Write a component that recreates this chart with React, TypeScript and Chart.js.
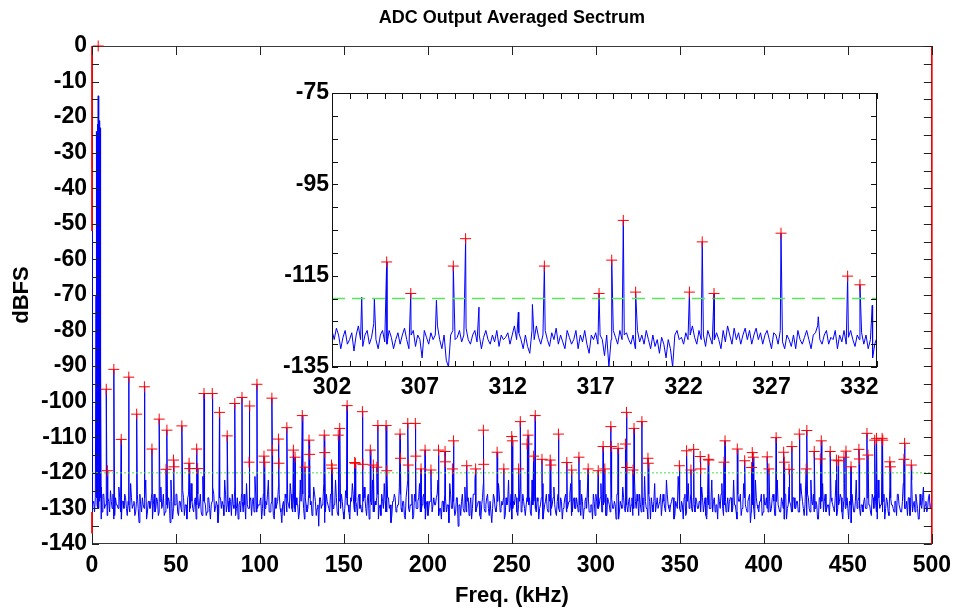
import React, { useEffect, useRef } from "react";
import { Chart, registerables } from "chart.js";

Chart.register(...registerables);

const FONT = "'Liberation Sans', Arial, Helvetica, sans-serif";
Chart.defaults.font.family = FONT;

// ---------- text ----------
const chartTitle = "ADC Output Averaged Sectrum";
const xAxisTitle = "Freq. (kHz)";
const yAxisTitle = "dBFS";

// ---------- axes ----------
const mainXTickLabels = [0, 50, 100, 150, 200, 250, 300, 350, 400, 450, 500];
const mainYTickLabels = [0, -10, -20, -30, -40, -50, -60, -70, -80, -90, -100, -110, -120, -130, -140];
const mainXRange = [0, 500];
const mainYRange = [-140, 0];
const insetXTickLabels = [302, 307, 312, 317, 322, 327, 332];
const insetYTickLabels = [-135, -115, -95, -75];
const insetXRange = [302, 333];
const insetYRange = [-135, -75];
const thresholdDb = -120;

// ---------- main spectrum: noise floor on integer bins (f = 1..500 kHz) ----------
const mainNoiseStartKHz = 1;
const mainNoiseStepKHz = 1;
const mainNoiseDb = [
  -128, -127, -129, -130, -127, -131, -126, -129, -132, -128, -125, -130, -133, -127, -129, -124, -131, -128, -130, -127,
  -132, -129, -123, -130, -128, -131, -126, -134, -129, -127, -130, -122, -131, -128, -129, -133, -126, -130, -128, -131,
  -124, -129, -132, -127, -130, -128, -122, -133, -129, -126, -131, -128, -130, -125, -132, -129, -127, -131, -123, -130,
  -128, -133, -126, -129, -131, -121, -128, -132, -127, -130, -129, -124, -131, -128, -134, -127, -130, -129, -122, -131,
  -128, -127, -132, -129, -124, -130, -133, -128, -126, -131, -129, -123, -130, -128, -132, -127, -121, -131, -129, -128,
  -133, -126, -130, -129, -122, -131, -128, -132, -127, -129, -124, -130, -134, -128, -126, -131, -129, -123, -130, -127,
  -131, -129, -133, -122, -128, -130, -127, -131, -126, -129, -132, -124, -128, -130, -135, -127, -129, -123, -131, -128,
  -130, -126, -132, -129, -122, -131, -127, -130, -128, -133, -125, -129, -131, -127, -123, -130, -128, -132, -126, -129,
  -131, -124, -130, -127, -133, -128, -122, -131, -129, -126, -130, -132, -128, -123, -131, -127, -130, -134, -128, -126,
  -131, -129, -124, -130, -128, -132, -127, -122, -131, -129, -133, -126, -130, -128, -123, -131, -127, -130, -129, -132,
  -128, -125, -131, -129, -127, -122, -130, -133, -128, -126, -131, -129, -123, -130, -128, -132, -127, -135, -129, -128,
  -130, -124, -131, -127, -129, -133, -126, -122, -130, -128, -132, -129, -123, -131, -127, -130, -128, -134, -126, -130,
  -129, -123, -131, -128, -127, -132, -129, -122, -130, -133, -128, -126, -131, -129, -124, -130, -128, -132, -127, -129,
  -131, -122, -128, -130, -127, -133, -129, -123, -131, -128, -130, -126, -132, -129, -124, -131, -128, -130, -127, -133,
  -129, -126, -130, -128, -123, -131, -127, -130, -129, -122, -132, -128, -130, -127, -124, -131, -129, -133, -128, -126,
  -130, -129, -123, -131, -128, -132, -127, -129, -122, -130, -128, -133, -126, -131, -129, -124, -130, -128, -131, -127,
  -129, -132, -122, -130, -128, -126, -131, -129, -121, -130, -133, -128, -127, -131, -123, -129, -130, -128, -132, -126,
  -130, -122, -129, -131, -128, -127, -132, -129, -121, -130, -128, -133, -126, -131, -123, -129, -130, -127, -131, -128,
  -130, -128, -124, -131, -127, -133, -129, -130, -122, -128, -131, -129, -126, -130, -123, -132, -128, -129, -131, -127,
  -131, -122, -129, -133, -128, -126, -130, -123, -129, -131, -127, -134, -128, -130, -122, -129, -131, -128, -132, -126,
  -129, -130, -123, -131, -127, -128, -132, -122, -129, -131, -128, -133, -126, -130, -124, -129, -131, -127, -130, -128,
  -131, -123, -128, -132, -129, -126, -130, -122, -129, -131, -128, -133, -127, -130, -123, -128, -131, -129, -132, -127,
  -129, -131, -122, -130, -128, -127, -133, -123, -129, -130, -128, -134, -126, -131, -122, -128, -130, -129, -131, -127,
  -130, -123, -129, -132, -127, -126, -131, -122, -130, -129, -128, -133, -127, -131, -124, -129, -130, -128, -132, -126,
  -129, -131, -123, -130, -128, -127, -132, -122, -129, -131, -128, -133, -126, -130, -124, -129, -131, -127, -130, -128,
];

// ---------- main spectrum: noise floor on half bins (f = 0.5..499.5 kHz) ----------
const mainHalfNoiseStartKHz = 0.5;
const mainHalfNoiseStepKHz = 1;
const mainHalfNoiseDb = [
  -129, -131, -127, -130, -128, -133, -126, -130, -129, -127, -131, -128, -126, -132, -129, -130, -127, -133, -128, -126,
  -130, -128, -131, -127, -129, -132, -128, -130, -126, -131, -129, -127, -133, -128, -130, -126, -129, -131, -127, -132,
  -128, -130, -126, -131, -129, -127, -134, -128, -130, -129, -126, -132, -128, -131, -127, -129, -133, -126, -130, -128,
  -131, -127, -129, -130, -126, -132, -128, -129, -131, -127, -133, -128, -126, -130, -129, -131, -127, -128, -132, -126,
  -129, -131, -128, -126, -130, -132, -127, -129, -131, -128, -126, -133, -129, -130, -127, -128, -131, -126, -130, -129,
  -127, -130, -132, -128, -126, -131, -129, -127, -133, -130, -128, -126, -131, -129, -132, -127, -128, -130, -126, -131,
  -130, -127, -129, -131, -128, -126, -133, -129, -130, -127, -128, -131, -126, -132, -129, -127, -130, -128, -134, -126,
  -128, -131, -126, -130, -129, -127, -132, -128, -126, -131, -130, -127, -129, -133, -128, -126, -131, -129, -127, -130,
  -131, -128, -127, -132, -126, -130, -129, -131, -128, -127, -133, -129, -126, -130, -128, -131, -127, -129, -132, -128,
  -127, -130, -129, -126, -131, -128, -133, -127, -130, -129, -126, -132, -128, -130, -127, -131, -129, -126, -133, -128,
  -130, -128, -131, -127, -129, -126, -132, -130, -128, -131, -127, -129, -134, -126, -130, -128, -131, -127, -129, -132,
  -126, -131, -129, -128, -132, -127, -130, -126, -131, -129, -128, -133, -127, -130, -129, -126, -132, -128, -130, -127,
  -131, -128, -126, -130, -129, -133, -127, -128, -131, -126, -130, -129, -127, -132, -128, -131, -126, -130, -129, -128,
  -127, -132, -129, -126, -131, -128, -130, -127, -133, -129, -126, -131, -128, -130, -127, -129, -132, -126, -131, -128,
  -130, -127, -131, -129, -126, -132, -128, -130, -127, -131, -129, -126, -133, -128, -130, -127, -131, -129, -126, -132,
  -128, -130, -127, -131, -129, -126, -132, -128, -131, -127, -130, -129, -126, -133, -128, -130, -127, -131, -129, -128,
  -131, -127, -130, -128, -126, -132, -129, -127, -131, -128, -130, -126, -133, -129, -128, -131, -127, -130, -126, -129,
  -128, -131, -126, -130, -129, -127, -133, -128, -130, -126, -131, -129, -127, -132, -128, -130, -126, -131, -129, -127,
  -130, -128, -131, -127, -129, -132, -126, -130, -128, -131, -127, -129, -133, -128, -126, -130, -129, -131, -127, -128,
  -127, -130, -129, -131, -126, -128, -132, -129, -127, -130, -128, -126, -131, -129, -133, -127, -130, -128, -126, -131,
  -129, -127, -131, -128, -130, -126, -132, -128, -129, -131, -127, -130, -126, -133, -129, -128, -131, -127, -130, -128,
  -131, -128, -126, -130, -129, -132, -127, -131, -128, -126, -130, -129, -133, -127, -128, -131, -126, -130, -129, -127,
  -128, -130, -127, -132, -129, -126, -131, -128, -130, -127, -133, -129, -126, -131, -128, -130, -127, -132, -129, -128,
  -130, -127, -129, -131, -126, -130, -128, -133, -127, -129, -131, -126, -130, -128, -132, -127, -129, -131, -128, -126,
  -129, -131, -128, -126, -130, -132, -127, -129, -131, -128, -126, -130, -133, -129, -127, -131, -128, -130, -126, -129,
];

// DC bin drawn along the left edge
const dcBlueDb = [-52, -131];

// fundamental (carrier) bins
const carrierFreqKHz = [2, 2.4, 2.8, 3.1, 3.4, 3.7, 4.0, 4.3, 4.6, 4.9, 5.2, 5.5];
const carrierDb = [-127, -70, -24, -110, -22, -14, -105, -21, -112, -23, -90, -124];
const carrierMarkFreqKHz = [3.7];
const carrierMarkDb = [0];

// marked spurs (red +)
const spurFreqKHz = [
  8.5, 9.2, 13, 17.4, 21.9, 26.6, 31.2, 35.7, 40, 44.1,
  44.6, 48.5, 48.8, 53.5, 57.8, 58.2, 62.3, 62.9, 66.7, 71.6,
  75.9, 80.5, 85, 89.3, 93.5, 93.9, 98.2, 102.4, 102.8, 107.1,
  107.4, 111, 111.3, 116, 119.9, 120.9, 125.2, 126.8, 129.2, 129.6,
  138.3, 138.6, 142.6, 143, 146.6, 147.5, 151.9, 156.4, 156.8, 161,
  161.3, 165.7, 167.5, 169.6, 170.2, 175.1, 175.5, 183.4, 183.7, 188,
  188.3, 192.5, 192.8, 195.9, 198.3, 201.8, 206.3, 210.2, 210.4, 214.6,
  215.2, 223.1, 228.4, 233, 233.2, 241.2, 245.2, 249.9, 250.3, 254,
  255, 259, 259.6, 262.9, 263.9, 267.9, 272.8, 273.2, 277.7, 282.7,
  285.6, 289.9, 295.4, 301.4, 304.3, 305.3, 308.9, 309.2, 313.2, 317.6,
  318.2, 318.4, 322.1, 322.7, 327.4, 331, 331.2, 349.7, 354, 356.6,
  358.2, 362.1, 362.4, 366.9, 367.3, 376.3, 376.9, 384.2, 388.6, 392.7,
  393.1, 393.7, 402, 403, 407.3, 411.8, 412.2, 415, 416.7, 421.1,
  425.2, 425.6, 430, 433.6, 434.2, 439.5, 443.2, 444.4, 447.7, 448.9,
  451.9, 456.6, 456.9, 461.4, 462, 466, 467.1, 470.4, 470.8, 475,
  475.3, 483.4, 483.8, 487.8,
];
const spurDb = [
  -96.5, -119.4, -90.9, -110.6, -93.1, -103.5, -95.8, -113.3, -104.9, -119,
  -108, -116.4, -118.3, -106.8, -117.3, -118.8, -113.3, -118.8, -97.7, -97.7,
  -103, -109.6, -100.5, -98.8, -117, -101.2, -95.1, -115.3, -117, -99,
  -113.6, -110.5, -117.3, -107.3, -113.6, -115.6, -103.9, -118.4, -110.8, -114.8,
  -109.4, -114.3, -117.8, -118.7, -109.4, -107.5, -101.1, -117.1, -117.3, -102.8,
  -117.6, -113.6, -117.8, -118.4, -106.7, -106.7, -119.4, -109.1, -115.9, -106.1,
  -117.8, -106.1, -115.3, -118.9, -113.6, -119.2, -113.6, -114, -116.9, -118.9,
  -111, -118, -118.9, -108, -117.6, -114.2, -118.9, -109.8, -111, -118.9,
  -105.6, -111.9, -109.4, -115.3, -103.9, -116.2, -116.4, -117.8, -109.1, -117.1,
  -119.2, -115.6, -118.9, -119.4, -112.6, -118.9, -107, -112.6, -113.1, -111.9,
  -103, -118.5, -119.2, -107.5, -105.6, -115.9, -117.3, -118, -113.8, -119.2,
  -113.4, -115.4, -118.9, -116.2, -116.4, -117, -111, -113.3, -116.6, -118.5,
  -114.3, -115.6, -115.5, -118.9, -110.1, -114.2, -117, -119, -112.6, -109.1,
  -118.9, -108.1, -114, -116.1, -111, -114, -116.4, -116.6, -115.6, -113.9,
  -118.3, -113.4, -116.1, -108.9, -115, -110.8, -110.3, -110.3, -110.8, -116.9,
  -118.3, -116.2, -111.7, -117.8,
];

// red edge traces (frequency, top dB, bottom dB)
const redEdgeFreqKHz = [500, 0, 0];
const redEdgeTopDb = [0, 0, -131];
const redEdgeBottomDb = [-140, -52, -137];

// ---------- inset: zoom 302..333 kHz (0.125 kHz grid) ----------
const insetNoiseStartKHz = 302;
const insetNoiseStepKHz = 0.125;
const insetNoiseDb = [
  -127, -129, -126.5, -128, -131, -128.5, -127, -130, -129, -127.5, -131.5, -128, -126, -129, -130.5, -128,
  -127, -130, -128.5, -125.5, -129, -131, -128, -127, -129.5, -130, -127, -128.5, -131, -129, -127.5, -130,
  -128, -126.5, -129, -131, -128, -127, -130.5, -128, -129, -133, -127, -128.5, -130, -127.5, -129, -128,
  -126, -129, -131, -128, -133.5, -135, -128, -127, -129, -128.5, -127, -129.5, -128, -126.5, -129, -130,
  -128, -127, -129.5, -128, -131, -128.5, -127, -129, -130, -128, -129.5, -127, -130.5, -128, -129, -128.5,
  -127.5, -130, -128, -126, -129, -127.5, -129, -131, -128, -130.5, -132, -127, -129, -126, -128.5, -130,
  -128, -127, -129, -130.5, -127.5, -129, -126.5, -130, -128, -129.5, -131, -127, -128.5, -130, -129, -127,
  -131, -128, -129.5, -127, -130, -132, -128, -129, -127.5, -130, -128, -129, -132.5, -128, -135, -129,
  -127, -128.5, -130, -127, -129, -128, -127.5, -129, -130, -128, -131, -127, -129.5, -128, -130, -127,
  -129, -131, -128, -130.5, -129, -132, -128.5, -130, -133, -129, -131, -135, -128, -127, -129, -128.5,
  -130, -127.5, -129, -128, -126, -128.5, -130, -127, -129, -128, -130.5, -127, -128.5, -130, -129, -127.5,
  -129, -131, -127, -129.5, -126, -128, -130, -126.5, -129, -127.5, -130, -128, -126.5, -129, -127, -130,
  -128, -126.5, -129, -127.5, -130, -128, -127, -129, -131, -127.5, -128, -130, -127, -129.5, -131, -128,
  -129, -130.5, -128, -131, -127, -129, -130, -128.5, -127, -129, -131, -128, -127.5, -126, -129, -130,
  -128, -127, -130, -128.5, -129, -127, -131, -128, -129.5, -127, -130, -128.5, -127, -129, -130.5, -128,
  -129, -127.5, -130, -128, -131, -129, -133, -130, -128.5,
];
const insetMarkFreqKHz = [305.11, 306.48, 308.9, 309.6, 314.08, 317.19, 317.91, 318.57, 319.27, 322.33, 323.06, 323.73, 327.54, 331.33, 332.03];
const insetMarkDb = [-112, -118.9, -112.9, -106.9, -112.9, -118.9, -111.6, -102.9, -118.6, -118.6, -107.6, -118.9, -105.7, -115.1, -117];
const insetMinorSpurFreqKHz = [303.69, 304.41, 307.94, 310.36, 312.6, 313.4, 329.66, 332.73];
const insetMinorSpurDb = [-119.7, -120, -120.4, -121.9, -123, -121.3, -124, -121.5];

// ---------- helpers ----------
type Pt = { x: number; y: number };
const pts = (xs: number[], ys: number[]): Pt[] => xs.map((x, i) => ({ x, y: ys[i] }));
const grid = (start: number, step: number, ys: number[]): Pt[] => ys.map((y, i) => ({ x: start + i * step, y }));
const byX = (a: Pt, b: Pt) => a.x - b.x;
const marks = (from: number, to: number, step: number) => {
  const out: number[] = [];
  for (let v = from; v <= to + 1e-9; v += step) out.push(v);
  return out;
};

type FrameSpec = {
  xMarks: number[];
  yMarks: number[];
  len: { top: number; bottom: number; left: number; right: number };
  frameColor: string;
  tickColor: string;
  fill?: string;
  frameOnTop: boolean;
};

function makeFramePlugin(id: string, spec: FrameSpec) {
  const drawFrame = (chart: any) => {
    const { ctx, chartArea: a } = chart;
    ctx.save();
    ctx.strokeStyle = spec.frameColor;
    ctx.lineWidth = 1;
    ctx.strokeRect(Math.round(a.left) + 0.5, Math.round(a.top) + 0.5, Math.round(a.right - a.left) - 1, Math.round(a.bottom - a.top) - 1);
    ctx.restore();
  };
  return {
    id,
    beforeDraw(chart: any) {
      if (!spec.fill) return;
      const { ctx, chartArea: a } = chart;
      ctx.save();
      ctx.fillStyle = spec.fill;
      ctx.fillRect(a.left, a.top, a.right - a.left, a.bottom - a.top);
      ctx.restore();
    },
    beforeDatasetsDraw(chart: any) {
      if (!spec.frameOnTop) drawFrame(chart);
    },
    afterDatasetsDraw(chart: any) {
      if (spec.frameOnTop) drawFrame(chart);
      const { ctx, chartArea: a, scales } = chart;
      const xs = scales.x;
      const ys = scales.y;
      ctx.save();
      ctx.strokeStyle = spec.tickColor;
      ctx.lineWidth = 1;
      ctx.beginPath();
      for (const v of spec.xMarks) {
        const px = Math.round(xs.getPixelForValue(v)) + 0.5;
        ctx.moveTo(px, a.top);
        ctx.lineTo(px, a.top + spec.len.top);
        ctx.moveTo(px, a.bottom);
        ctx.lineTo(px, a.bottom - spec.len.bottom);
      }
      for (const v of spec.yMarks) {
        const py = Math.round(ys.getPixelForValue(v)) + 0.5;
        ctx.moveTo(a.left, py);
        ctx.lineTo(a.left + spec.len.left, py);
        ctx.moveTo(a.right, py);
        ctx.lineTo(a.right - spec.len.right, py);
      }
      ctx.stroke();
      ctx.restore();
    },
  };
}

const tickFont = { family: FONT, size: 23, weight: "bold" as const };

function mainConfig(): any {
  const series = [
    ...dcBlueDb.map((y) => ({ x: 0, y })),
    ...grid(mainNoiseStartKHz, mainNoiseStepKHz, mainNoiseDb),
    ...grid(mainHalfNoiseStartKHz, mainHalfNoiseStepKHz, mainHalfNoiseDb),
    ...pts(carrierFreqKHz, carrierDb),
    ...pts(spurFreqKHz, spurDb),
  ].sort(byX);
  const markers = [...pts(carrierMarkFreqKHz, carrierMarkDb), ...pts(spurFreqKHz, spurDb)];
  const redEdges = redEdgeFreqKHz.map((f, i) => ({
    data: [
      { x: f, y: redEdgeTopDb[i] },
      { x: f, y: redEdgeBottomDb[i] },
    ],
    borderColor: "rgb(255,0,0)",
    borderWidth: 1,
    pointRadius: 0,
    clip: false,
  }));
  return {
    type: "line",
    data: {
      datasets: [
        {
          data: markers,
          showLine: false,
          pointStyle: "cross",
          pointRadius: 5.5,
          pointBorderColor: "rgb(255,0,0)",
          pointBorderWidth: 1,
          borderColor: "rgb(255,0,0)",
          clip: false,
        },
        {
          data: [
            { x: mainXRange[0], y: thresholdDb },
            { x: mainXRange[1], y: thresholdDb },
          ],
          borderColor: "rgb(70,225,70)",
          borderWidth: 1,
          borderDash: [2, 2],
          pointRadius: 0,
        },
        ...redEdges,
        {
          data: series,
          borderColor: "rgb(0,0,255)",
          borderWidth: 1,
          pointRadius: 0,
          tension: 0,
        },
      ],
    },
    options: {
      animation: false,
      responsive: false,
      devicePixelRatio: 1,
      events: [],
      layout: { padding: { left: 0, right: 22, top: 0, bottom: 0 } },
      plugins: {
        legend: { display: false },
        tooltip: { enabled: false },
        title: {
          display: true,
          text: chartTitle,
          fullSize: false,
          color: "#000",
          font: { family: FONT, size: 18, weight: "bold" },
          padding: { top: 7, bottom: 17.4 },
        },
      },
      scales: {
        x: {
          type: "linear",
          min: mainXRange[0],
          max: mainXRange[1],
          grid: { display: false, drawTicks: false },
          border: { display: false },
          ticks: { color: "#000", font: tickFont, padding: 8, autoSkip: false, maxRotation: 0, callback: (v: number) => String(v) },
          afterBuildTicks: (s: any) => {
            s.ticks = mainXTickLabels.map((value) => ({ value }));
          },
          afterFit: (s: any) => {
            s.height = 70;
          },
          title: { display: true, text: xAxisTitle, color: "#000", font: { family: FONT, size: 22, weight: "bold" }, padding: { top: 5, bottom: 5 } },
        },
        y: {
          type: "linear",
          min: mainYRange[0],
          max: mainYRange[1],
          grid: { display: false, drawTicks: false },
          border: { display: false },
          ticks: { color: "#000", font: tickFont, padding: 5, autoSkip: false, callback: (v: number) => String(v) },
          afterBuildTicks: (s: any) => {
            s.ticks = mainYTickLabels.map((value) => ({ value }));
          },
          afterFit: (s: any) => {
            s.width = 92;
          },
          title: { display: true, text: yAxisTitle, color: "#000", font: { family: FONT, size: 22, weight: "bold" }, padding: { top: 9, bottom: 9 } },
        },
      },
    },
    plugins: [
      makeFramePlugin("mainFrame", {
        xMarks: mainXTickLabels,
        yMarks: marks(mainYRange[0], mainYRange[1], 5),
        len: { top: 9, bottom: 10, left: 7, right: 8 },
        frameColor: "#3a3a3a",
        tickColor: "#222",
        frameOnTop: false,
      }),
    ],
  };
}

function insetConfig(): any {
  const series = [
    ...grid(insetNoiseStartKHz, insetNoiseStepKHz, insetNoiseDb),
    ...pts(insetMarkFreqKHz, insetMarkDb),
    ...pts(insetMinorSpurFreqKHz, insetMinorSpurDb),
  ].sort(byX);
  return {
    type: "line",
    data: {
      datasets: [
        {
          data: pts(insetMarkFreqKHz, insetMarkDb),
          showLine: false,
          pointStyle: "cross",
          pointRadius: 5.5,
          pointBorderColor: "rgb(255,0,0)",
          pointBorderWidth: 1,
          borderColor: "rgb(255,0,0)",
          clip: false,
        },
        {
          data: [
            { x: insetXRange[0], y: thresholdDb },
            { x: insetXRange[1], y: thresholdDb },
          ],
          borderColor: "rgb(90,230,90)",
          borderWidth: 1.5,
          borderDash: [13, 7],
          pointRadius: 0,
        },
        {
          data: series,
          borderColor: "rgb(0,0,255)",
          borderWidth: 1,
          pointRadius: 0,
          tension: 0,
        },
      ],
    },
    options: {
      animation: false,
      responsive: false,
      devicePixelRatio: 1,
      events: [],
      layout: { padding: { left: 0, right: 25, top: 31, bottom: 0 } },
      plugins: { legend: { display: false }, tooltip: { enabled: false }, title: { display: false } },
      scales: {
        x: {
          type: "linear",
          min: insetXRange[0],
          max: insetXRange[1],
          grid: { display: false, drawTicks: false },
          border: { display: false },
          ticks: { color: "#000", font: tickFont, padding: 7, autoSkip: false, maxRotation: 0, callback: (v: number) => String(v) },
          afterBuildTicks: (s: any) => {
            s.ticks = insetXTickLabels.map((value) => ({ value }));
          },
          afterFit: (s: any) => {
            s.height = 45;
          },
        },
        y: {
          type: "linear",
          min: insetYRange[0],
          max: insetYRange[1],
          grid: { display: false, drawTicks: false },
          border: { display: false },
          ticks: { color: "#000", font: tickFont, padding: 3, autoSkip: false, callback: (v: number) => String(v) },
          afterBuildTicks: (s: any) => {
            s.ticks = insetYTickLabels.map((value) => ({ value }));
          },
          afterFit: (s: any) => {
            s.width = 70;
          },
        },
      },
    },
    plugins: [
      makeFramePlugin("insetFrame", {
        xMarks: marks(insetXRange[0], insetXRange[1], 1),
        yMarks: marks(insetYRange[0], insetYRange[1], 5),
        len: { top: 6, bottom: 6, left: 6, right: 6 },
        frameColor: "#111",
        tickColor: "#111",
        fill: "#ffffff",
        frameOnTop: true,
      }),
    ],
  };
}

export default function App() {
  const mainRef = useRef<HTMLCanvasElement>(null);
  const insetRef = useRef<HTMLCanvasElement>(null);
  useEffect(() => {
    const c1 = new Chart(mainRef.current as HTMLCanvasElement, mainConfig());
    const c2 = new Chart(insetRef.current as HTMLCanvasElement, insetConfig());
    return () => {
      c1.destroy();
      c2.destroy();
    };
  }, []);
  return (
    <div style={{ position: "absolute", left: 0, top: 0, width: 959, height: 614, background: "#fff" }}>
      <canvas ref={mainRef} width={959} height={614} style={{ position: "absolute", left: 0, top: 0 }} />
      <canvas ref={insetRef} width={640} height={350} style={{ position: "absolute", left: 262, top: 62 }} />
    </div>
  );
}
